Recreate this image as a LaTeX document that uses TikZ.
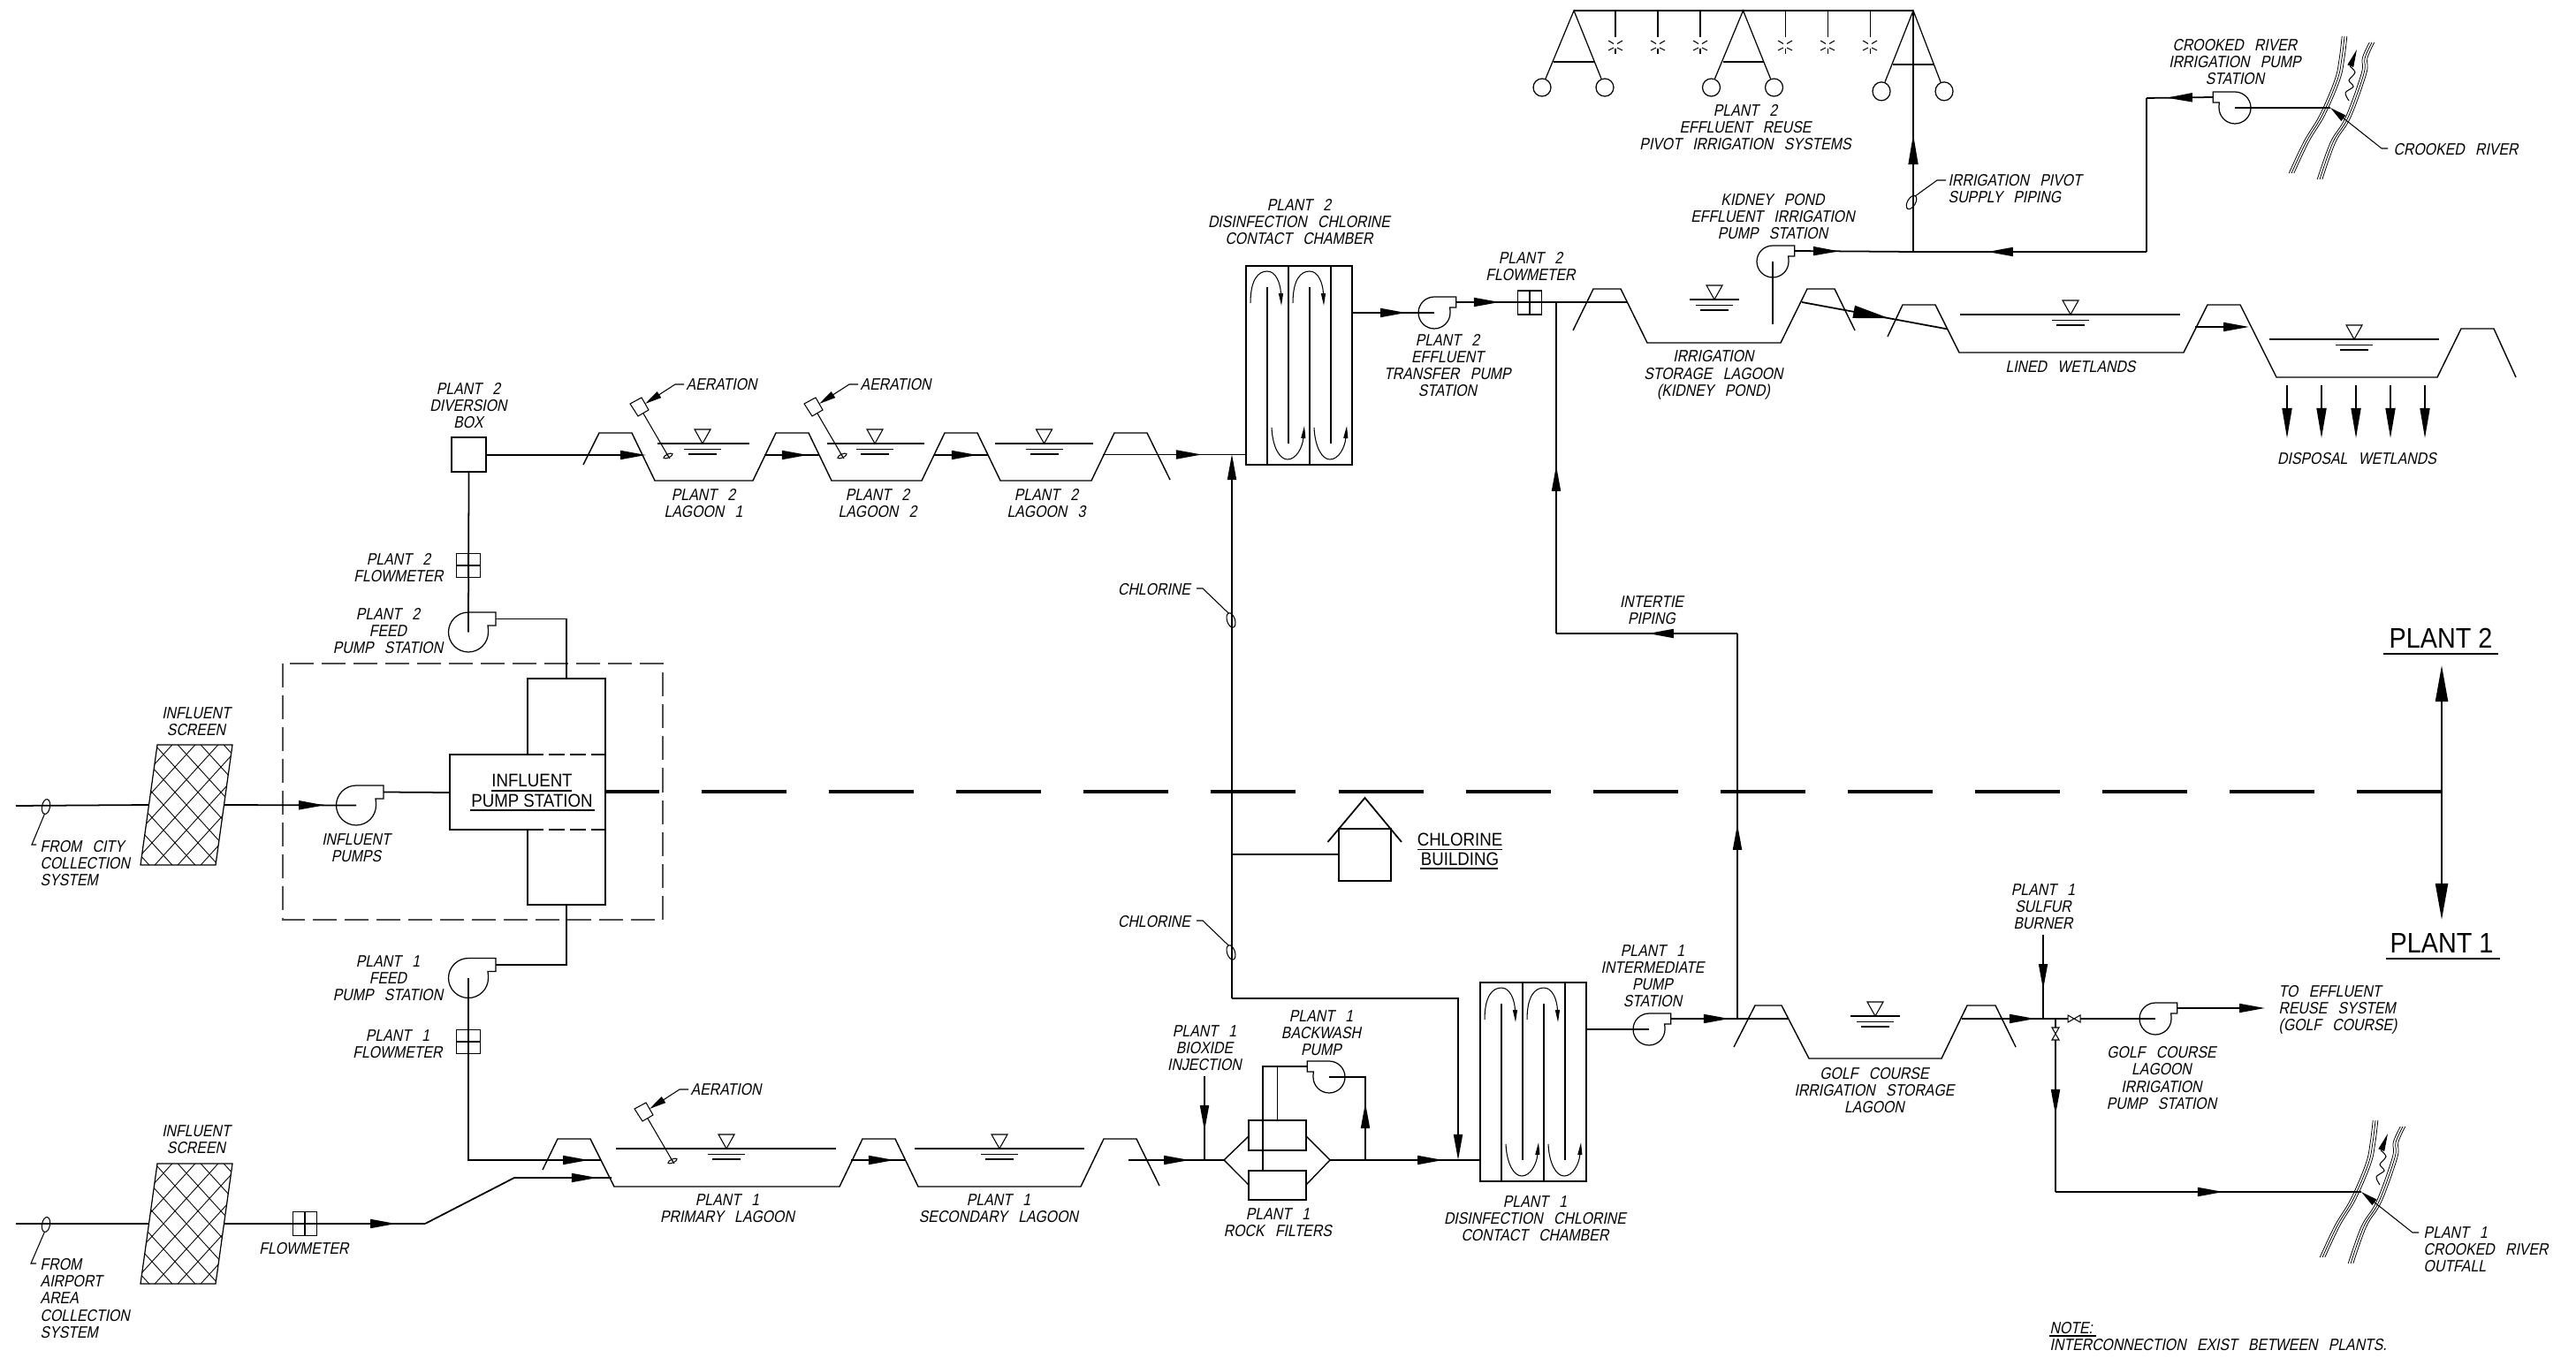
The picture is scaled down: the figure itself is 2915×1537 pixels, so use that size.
\documentclass[tikz,border=0pt]{standalone}
\usepackage{fontspec}
\usetikzlibrary{calc,positioning,arrows.meta,decorations.markings}
\newfontfamily\cadfam[FakeSlant=.2,FakeStretch=.85,WordSpace=2.8]{Liberation Sans}
\newfontfamily\cadup[FakeStretch=.9]{Liberation Sans}
\newcommand{\cadit}{\cadfam\fontsize{5.3}{5.45}\selectfont}
\newcommand{\cadtag}{\cadup\fontsize{5.9}{6.3}\selectfont}
\newcommand{\cadbig}{\cadup\fontsize{9.1}{10}\selectfont}

\tikzset{
  flowtip/.tip={Triangle[length=.29cm,width=.1cm]},
  longtip/.tip={Triangle[length=.34cm,width=.11cm]},
  bigtip/.tip={Triangle[length=.41cm,width=.14cm]},
  leadtip/.tip={Triangle[length=.19cm,width=.08cm]},
  smalltip/.tip={Triangle[length=.14cm,width=.05cm]},
  flow/.style={postaction={decorate,decoration={markings,mark=at position #1 with {\arrow{flowtip}}}}},
  lflow/.style={postaction={decorate,decoration={markings,mark=at position #1 with {\arrow{longtip}}}}},
  bflow/.style={postaction={decorate,decoration={markings,mark=at position #1 with {\arrow{bigtip}}}}},
  pipe/.style={line width=.5pt},
  leader/.style={line width=.3pt},
  hatch/.style={line width=.25pt},
  bank/.style={line width=.22pt},
  lagoon/.style={line width=.4pt},
  lbl/.style={font=\cadit,align=center,inner sep=0pt},
  lblw/.style={font=\cadit,align=left,anchor=west,inner sep=0pt},
  upr/.style={font=\cadtag,align=center,inner sep=0pt},
  box/.style={draw,rectangle,line width=.35pt,inner sep=0pt,outer sep=0pt},
  % centrifugal pump, origin at the eye
  pics/pumpsym/.style={code={
    \coordinate (-in) at (0,0);
    \coordinate (-out) at (31,-15);
    \draw[line width=.35pt] (0,-22.5) .. controls (-12.4,-22.5) and (-22.5,-12.4) .. (-22.5,0)
      .. controls (-22.5,12.4) and (-12.4,22.5) .. (0,22.5)
      .. controls (12.4,22.5) and (22.5,12.4) .. (22.5,0)
      .. controls (22.5,-2.6) and (22.4,-5) .. (22,-7.5) -- (31,-7.5) -- (31,-22.5) -- cycle;
  }},
  % flowmeter square
  pics/metersym/.style={code={
    \draw[line width=.3pt] (-13.5,-13.5) rectangle (13.5,13.5);
    \draw[line width=.3pt] (0,-13.5) -- (0,13.5);
    \draw[line width=.3pt] (-13.5,0) -- (13.5,0);
  }},
  % influent screen
  pics/screensym/.style={code={
    \coordinate (-in) at (-43,0);
    \coordinate (-out) at (43,0);
    \draw[line width=.35pt] (-33,-68) -- (52,-68) -- (33,68) -- (-52,68) -- cycle;
    \begin{scope}
      \clip (-33,-68) -- (52,-68) -- (33,68) -- (-52,68) -- cycle;
      \foreach \k in {-6,...,6}{
        \draw[hatch] ({\k*26-70},-77) -- ({\k*26+70},77);
        \draw[hatch] ({\k*26-70},77) -- ({\k*26+70},-77);
      }
    \end{scope}
  }},
  % water level mark
  pics/watersym/.style={code={
    \draw[line width=.3pt] (-9,-16) -- (9,-16) -- (0,0) -- cycle;
    \draw[line width=.6pt] (-28,0) -- (28,0);
    \draw[line width=.5pt] (-21,6.5) -- (21,6.5);
    \draw[line width=.5pt] (-16,12) -- (16,12);
  }},
  % aerator, origin at the foot
  pics/aersym/.style={code={
    \draw[line width=.3pt] (-43,-59) -- (-30,-66) -- (-22,-52) -- (-34,-45) -- cycle;
    \draw[leader] (-28,-48) -- (0,0);
    \draw[leader,rotate=25] (0,0) ellipse [x radius=5.5,y radius=2];
    \draw[leader] (-2,-3) -- (2,3);
    \draw[leader,-{leadtip}] (18,-81) -- (8,-81) -- (-26,-59);
  }},
  % contact chamber, origin at top left
  pics/chambersym/.style={code={
    \coordinate (-out) at (120,53);
    \draw[line width=.35pt] (0,0) rectangle (120,225);
    \foreach \dx in {0,48}{
      \draw[line width=.3pt] (\dx+48,0) -- (\dx+48,201);
      \draw[line width=.3pt] (\dx+24,225) -- (\dx+24,24);
      \draw[leader,-{smalltip}] (\dx+5,42) .. controls (\dx+5,15) and (\dx+14,6) .. (\dx+24,6)
        .. controls (\dx+34,6) and (\dx+39,20) .. (\dx+40,45);
      \draw[leader,-{smalltip}] (\dx+29,183) .. controls (\dx+30,205) and (\dx+38,219) .. (\dx+47,219)
        .. controls (\dx+57,219) and (\dx+64,205) .. (\dx+66,181);
    }
  }},
  % river banks, origin where the pipe meets the bank
  pics/riversym/.style={code={
    \coordinate (-j) at (0,0);
    \foreach \d in {-2.8,0,2.8}{
      \draw[bank,shift={(\d,0)}] plot [smooth, tension=.6] coordinates {(16,-81) (13,-56) (8,-32) (-9,8) (-27,38) (-44,74)};
      \draw[bank,shift={(\d,0)}] plot [smooth, tension=.6] coordinates {(47,-74) (39,-56) (38,-39) (20,11) (3,39) (-12,81)};
    }
    \draw[leader] plot [smooth] coordinates {(22,-47) (28,-40) (21,-31) (26,-24) (17,-17) (21,-8)};
    \draw[leader,-{Triangle[length=.2cm,width=.07cm]}] (23,-48) -- (30,-66);
    \draw[leader,-{leadtip}] (65,46) -- (58,46) -- (0,0);
  }},
  % pipe tag oval
  pics/tagsym/.style={code={
    \coordinate (-top) at (0,-8);
    \coordinate (-bot) at (0,8);
    \draw[leader] (0,0) ellipse [x radius=4.5,y radius=8.5];
  }},
  % valve bowtie
  pics/valvesym/.style={code={
    \draw[fill=white,leader] (-7,-4) -- (7,4) -- (7,-4) -- (-7,4) -- cycle;
  }},
  % center pivot tower
  pics/pivotsym/.style={code={
    \draw[line width=.35pt] (-32,77) -- (0,0) -- (31,77);
    \draw[line width=.35pt] (-23,58) -- (23,58);
    \draw[line width=.35pt] (-36,87) circle [radius=10];
    \draw[line width=.35pt] (35,87) circle [radius=10];
  }}
}

\begin{document}
\begin{tikzpicture}[x=.01cm,y=-.01cm,line width=.4pt]
  \useasboundingbox (0,0) rectangle (2915,1537);

  % === Influent side ===
  \draw[black!70,dash pattern=on .27cm off .09cm] (320,751) rectangle (750,1041);
  \draw (597,854) -- (509,854) -- (509,939) -- (597,939);
  \draw[dash pattern=on .18cm off .06cm] (597,854) -- (685,854);
  \draw[dash pattern=on .18cm off .06cm] (597,939) -- (685,939);
  \draw (597,854) -- (597,768) -- (685,768) -- (685,1024) -- (597,1024) -- (597,939);
  \node[upr] (stationlbl) at (602,895) {INFLUENT\\PUMP STATION};
  \draw (556,895) -- (647,895);
  \draw (532,917) -- (672.5,917);
  \coordinate (stnN) at (641,768);
  \coordinate (stnS) at (641,1024);
  \coordinate (stnW) at (509,897);

  \coordinate (cityin) at (18,912);
  \coordinate (airin) at (18,1385);
  \pic (scrA) at (211,911) {screensym};
  \pic (scrB) at (211,1385) {screensym};
  \pic (pumpA) at (403,911.5) {pumpsym};
  \pic (pumpB) at (530,715.5) {pumpsym};
  \pic (pumpC) at (530,1107) {pumpsym};

  \draw[pipe] (cityin) -- (scrA-in);
  \draw[pipe,flow=.76] (scrA-out) -- (pumpA-in);
  \draw[pipe] (pumpA-out) -- (stnW);
  \pic[rotate=-10] (tagA) at (52,913) {tagsym};
  \coordinate (tagAa) at (36,956);
  \coordinate (tagAb) at (41,956);
  \draw[leader] (tagA-bot) -- (tagAa) -- (tagAb);
  \node[lblw] (citylbl) at (45,977) {FROM CITY\\COLLECTION\\SYSTEM};
  \node[lbl] (scrAlbl) at (222,816.5) {INFLUENT\\SCREEN};
  \node[lbl] (pumpAlbl) at (403,959.5) {INFLUENT\\PUMPS};

  % === Plant 2 feed ===
  \node[box,minimum width=.39cm,minimum height=.39cm] (divbox) at (530.5,514.5) {};
  \draw[pipe] (stnN) |- (pumpB-out);
  \draw[pipe] (pumpB-in) -- (divbox.south);
  \pic at (530,640) {metersym};
  \node[lbl] (pumpBlbl) at (439,714) {PLANT 2\\FEED\\PUMP STATION};
  \node[lbl] (fmBlbl) at (451,642.5) {PLANT 2\\FLOWMETER};
  \node[lbl] (divlbl) at (530,459) {PLANT 2\\DIVERSION\\BOX};

  % === Plant 1 feed ===
  \coordinate (prima) at (680,1313);
  \coordinate (primb) at (692,1333);
  \coordinate (bendA) at (481,1385);
  \coordinate (bendB) at (582,1333);
  \draw[pipe] (stnS) |- (pumpC-out);
  \draw[pipe,flow=.961] (pumpC-in) |- (prima);
  \pic at (530,1179) {metersym};
  \draw[pipe] (airin) -- (scrB-in);
  \draw[pipe,flow=.855] (scrB-out) -- (bendA);
  \draw[pipe,flow=.928] (bendA) -- (bendB) -- (primb);
  \pic at (345,1385) {metersym};
  \pic[rotate=-10] (tagB) at (52,1386) {tagsym};
  \coordinate (tagBa) at (35,1430);
  \coordinate (tagBb) at (41,1430);
  \draw[leader] (tagB-bot) -- (tagBa) -- (tagBb);
  \node[lblw] (airlbl) at (45,1469.5) {FROM\\AIRPORT\\AREA\\COLLECTION\\SYSTEM};
  \node[lbl] (scrBlbl) at (222,1289.5) {INFLUENT\\SCREEN};
  \node[lbl] (fmlbl) at (344,1413) {FLOWMETER};
  \node[lbl] (pumpClbl) at (439,1107) {PLANT 1\\FEED\\PUMP STATION};
  \node[lbl] (fmClbl) at (450,1181.5) {PLANT 1\\FLOWMETER};

  % === Plant 2 lagoons ===
  \draw[lagoon] (660,526) -- (678,490) -- (715,490) -- (741,544) -- (852,544) -- (878,490) -- (915,490)
    -- (941,544) -- (1043,544) -- (1069,490) -- (1106,490) -- (1132,544) -- (1235,544) -- (1261,490)
    -- (1298,490) -- (1324,543);
  \draw (743.5,502) -- (848,502);
  \draw (935.5,502) -- (1046,502);
  \draw (1126,502) -- (1237,502);
  \pic at (795,502) {watersym};
  \pic at (990,502) {watersym};
  \pic at (1181.5,502) {watersym};
  \pic at (756,516) {aersym};
  \pic at (953,516) {aersym};
  \coordinate (lagA) at (731,515);
  \coordinate (lagB) at (865,515);
  \coordinate (lagC) at (927,515);
  \coordinate (lagD) at (1057,515);
  \coordinate (lagE) at (1118,515);
  \coordinate (lagF) at (1248,514.5);
  \coordinate (chamBw) at (1410,514.5);
  \draw[pipe,-{flowtip}] (divbox.east |- lagA) -- (lagA);
  \draw[pipe,flow=.79] (lagB) -- (lagC);
  \draw[pipe,flow=.8] (lagD) -- (lagE);
  \draw[pipe,flow=.691] (lagF) -- (chamBw);
  \node[lblw] (aerA) at (776,435) {AERATION};
  \node[lblw] (aerB) at (973,435) {AERATION};
  \node[lbl] (lagAlbl) at (796,569.5) {PLANT 2\\LAGOON 1};
  \node[lbl] (lagBlbl) at (993,569.5) {PLANT 2\\LAGOON 2};
  \node[lbl] (lagClbl) at (1184,569.5) {PLANT 2\\LAGOON 3};

  % === Plant 1 lagoons ===
  \draw[lagoon] (614,1324) -- (631,1289) -- (668,1289) -- (695,1343) -- (950,1343) -- (976,1289)
    -- (1013,1289) -- (1039,1343) -- (1223,1343) -- (1249,1289) -- (1286,1289) -- (1312,1342);
  \draw (697,1300) -- (946,1300);
  \draw (1035,1300) -- (1227,1300);
  \pic at (822,1300) {watersym};
  \pic at (1131,1300) {watersym};
  \pic at (761,1314) {aersym};
  \coordinate (primc) at (963,1313);
  \coordinate (primd) at (1025,1313);
  \draw[pipe,flow=.79] (primc) -- (primd);
  \node[lblw] (aerC) at (781,1233) {AERATION};
  \node[lbl] (primlbl) at (823,1368) {PLANT 1\\PRIMARY LAGOON};
  \node[lbl] (seclbl) at (1130,1368) {PLANT 1\\SECONDARY LAGOON};

  % === Rock filters ===
  \node[box,minimum width=.65cm,minimum height=.34cm] (rockU) at (1445.5,1285) {};
  \node[box,minimum width=.65cm,minimum height=.33cm] (rockL) at (1445.5,1341.5) {};
  \coordinate (rockin) at (1385,1313);
  \coordinate (rockout) at (1505,1313);
  \coordinate (secout) at (1277,1313);
  \coordinate (chamAw) at (1675,1313);
  \coordinate (bioin) at (1363,1218);
  \coordinate (biotee) at (1363,1313);
  \coordinate (bwtee) at (1545,1313);
  \coordinate (bwa) at (1429,1207);
  \coordinate (bwb) at (1445.5,1207);
  \draw (rockU.west |- 0,1286) -- (rockin) -- (rockL.west |- 0,1341);
  \draw (rockU.east |- 0,1286) -- (rockout) -- (rockL.east |- 0,1341);
  \draw[pipe,flow=.639] (secout) -- (rockin);
  \draw[pipe,flow=.753] (rockout) -- (chamAw);
  \draw[pipe,flow=.653] (bioin) -- (biotee);
  \pic[xscale=-.8,yscale=.8] (pumpD) at (1504,1219) {pumpsym};
  \draw[pipe,flow=.481] (bwtee) |- (pumpD-in);
  \draw (pumpD-out) -- (bwa) -- (bwa |- rockL.north);
  \draw (bwb) -- (rockU.north);
  \node[lbl] (biolbl) at (1363,1186) {PLANT 1\\BIOXIDE\\INJECTION};
  \node[lbl] (bwlbl) at (1495,1169) {PLANT 1\\BACKWASH\\PUMP};
  \node[lbl] (rocklbl) at (1446,1383.5) {PLANT 1\\ROCK FILTERS};

  % === Chlorine ===
  \coordinate (cltee) at (1394,1130);
  \coordinate (clup) at (1394,514);
  \coordinate (clbranch) at (1394,967);
  \coordinate (clin) at (1650,1313);
  \node[box,line width=.6pt,minimum width=.59cm,minimum height=.59cm] (clbuild) at (1544.5,967.5) {};
  \draw[line width=.5pt] (1502.5,953) -- (1544.5,903) -- (1586,953);
  \draw[pipe,-{flowtip}] (cltee) -- (clup);
  \draw[pipe,-{flowtip}] (cltee) -| (clin);
  \draw[pipe] (clbranch) -- (clbuild.west |- clbranch);
  \pic[rotate=18] (tagC) at (1393,702) {tagsym};
  \pic[rotate=18] (tagD) at (1393,1078) {tagsym};
  \coordinate (tagCa) at (1361,666);
  \coordinate (tagCb) at (1354,666);
  \coordinate (tagDa) at (1361,1042);
  \coordinate (tagDb) at (1354,1042);
  \draw[leader] (tagC-top) -- (tagCa) -- (tagCb);
  \draw[leader] (tagD-top) -- (tagDa) -- (tagDb);
  \node[lbl] (clAlbl) at (1306,667) {CHLORINE};
  \node[lbl] (clBlbl) at (1306,1043) {CHLORINE};
  \node[upr] (buildlbl) at (1652,961.5) {CHLORINE\\BUILDING};
  \draw (1603.5,961.5) -- (1700,961.5);
  \draw (1607,983) -- (1695,983);

  % === Contact chambers ===
  \pic (chamA) at (1675,1112) {chambersym};
  \pic (chamB) at (1410,301) {chambersym};
  \node[lbl] (chamAlbl) at (1737,1379) {PLANT 1\\DISINFECTION CHLORINE\\CONTACT CHAMBER};
  \node[lbl] (chamBlbl) at (1470,251) {PLANT 2\\DISINFECTION CHLORINE\\CONTACT CHAMBER};

  % --- plant 2 outlet ---
  \pic[scale=.8] (pumpE) at (1623,354) {pumpsym};
  \coordinate (irrin) at (1841,342);
  \coordinate (intT) at (1761,342);
  \coordinate (intB) at (1761,717);
  \coordinate (intC) at (1966,717);
  \coordinate (intS) at (1966,1153);
  \draw[pipe,flow=.656] (chamB-out) -- (pumpE-in);
  \draw[pipe,flow=.254] (pumpE-out) -- (irrin);
  \pic at (1731,342.5) {metersym};
  \draw[pipe,flow=.505] (intS) -- (intC);
  \draw[pipe,flow=.493] (intC) -- (intB);
  \draw[pipe,flow=.507] (intB) -- (intT);
  \node[lbl] (pumpElbl) at (1638,413.5) {PLANT 2\\EFFLUENT\\TRANSFER PUMP\\STATION};
  \node[lbl] (fmElbl) at (1732,301.5) {PLANT 2\\FLOWMETER};
  \node[lbl] (intlbl) at (1869,691) {INTERTIE\\PIPING};

  % --- plant 1 outlet ---
  \pic[scale=.8] (pumpF) at (1866,1165) {pumpsym};
  \coordinate (golfin) at (2024,1153);
  \draw[pipe] (chamA-out) -- (pumpF-in);
  \draw[pipe,flow=.496] (pumpF-out) -- (golfin);
  \node[lbl] (pumpFlbl) at (1870,1104.5) {PLANT 1\\INTERMEDIATE\\PUMP\\STATION};

  % === Golf course lagoon ===
  \draw[lagoon] (1962,1185) -- (1986,1138) -- (2016,1138) -- (2047,1198) -- (2197,1198) -- (2226,1138)
    -- (2258,1138) -- (2281,1185);
  \pic at (2122,1150) {watersym};
  \pic[scale=.8] (pumpG) at (2439,1153) {pumpsym};
  \pic[scale=.8] (pumpH) at (2006,296) {pumpsym};
  \coordinate (golfout) at (2220,1153);
  \coordinate (sulfin) at (2312,1058);
  \coordinate (sulftee) at (2312,1153);
  \coordinate (brtee) at (2326,1153);
  \coordinate (brbend) at (2326,1349);
  \coordinate (reuse) at (2563,1141);
  \draw[pipe,flow=.902] (golfout) -- (sulftee);
  \draw[pipe,flow=.653] (sulfin) -- (sulftee);
  \draw[pipe] (sulftee) -- (pumpG-in);
  \draw[pipe,-{flowtip}] (pumpG-out) -- (reuse);
  \draw[pipe,flow=.556] (brtee) -- (brbend);
  \pic (valveA) at (2347,1153) {valvesym};
  \pic[rotate=90] (valveB) at (2326,1170) {valvesym};
  \pic (rivA) at (2672,1349) {riversym};
  \draw[pipe,flow=.549] (brbend) -- (rivA-j);
  \node[lbl] (golflbl) at (2121,1234) {GOLF COURSE\\IRRIGATION STORAGE\\LAGOON};
  \node[lbl] (sulflbl) at (2312,1026) {PLANT 1\\SULFUR\\BURNER};
  \node[lbl] (pumpGlbl) at (2446,1220) {GOLF COURSE\\LAGOON\\IRRIGATION\\PUMP STATION};
  \node[lblw] (reuselbl) at (2578,1143) {TO EFFLUENT\\REUSE SYSTEM\\(GOLF COURSE)};
  \node[lblw] (outlbl) at (2742,1414) {PLANT 1\\CROOKED RIVER\\OUTFALL};

  % === Upper right lagoons ===
  \draw[lagoon] (1780,374) -- (1803,327) -- (1834,327) -- (1864,388) -- (2015,388) -- (2045,327)
    -- (2076,327) -- (2099,374);
  \draw[lagoon] (2136,381) -- (2153,345) -- (2190,345) -- (2217,399) -- (2471,399) -- (2498,345)
    -- (2535,345) -- (2576,427) -- (2758,427) -- (2785,372) -- (2822,372) -- (2847,427);
  \draw (2218,356) -- (2467,356);
  \draw (2568,384) -- (2760,384);
  \pic at (1940,339) {watersym};
  \pic at (2343,356) {watersym};
  \pic at (2664,384) {watersym};
  \coordinate (irrout) at (2039,342);
  \coordinate (linedin) at (2204,372.5);
  \coordinate (linedout) at (2484,370);
  \coordinate (dispin) at (2545,370);
  \coordinate (kidfoot) at (2006,367);
  \draw[pipe,bflow=.6] (irrout) -- (linedin);
  \draw[pipe,-{flowtip}] (linedout) -- (dispin);
  \draw (pumpH-in) -- (kidfoot);
  \foreach \ax in {2588,2627,2666,2705,2744}{
    \draw[pipe,-{longtip}] (\ax,436) -- (\ax,496);
  }
  \node[lbl] (irrlbl) at (1939,424.5) {IRRIGATION\\STORAGE LAGOON\\(KIDNEY POND)};
  \node[lbl] (linedlbl) at (2343,415) {LINED WETLANDS};
  \node[lbl] (displbl) at (2667,519) {DISPOSAL WETLANDS};
  \node[lbl] (kidlbl) at (2006,245) {KIDNEY POND\\EFFLUENT IRRIGATION\\PUMP STATION};

  % === Pivot irrigation ===
  \coordinate (pivtee) at (2165,285);
  \coordinate (pivA) at (1781,12);
  \coordinate (pivC) at (2165,12);
  \coordinate (rvbend) at (2429,285);
  \coordinate (rvtop) at (2429,111);
  \draw (pivA) -- (pivC);
  \pic at (1781,12) {pivotsym};
  \pic at (1972.5,12) {pivotsym};
  \pic[yscale=1.05] at (2165,12) {pivotsym};
  \foreach \sx in {1828,1876,1924,2020,2068,2116}{
    \draw[line width=.3pt] (\sx,12) -- (\sx,42);
    \draw[leader] (\sx-8,46) -- (\sx-2,49.5);
    \draw[leader] (\sx+8,46) -- (\sx+2,49.5);
    \draw[leader] (\sx-8,57) -- (\sx-2,54);
    \draw[leader] (\sx+8,57) -- (\sx+2,54);
    \draw[leader] (\sx,55) -- (\sx,61);
  }
  \pic[xscale=-.8,yscale=.8] (pumpI) at (2529,122) {pumpsym};
  \pic (rivB) at (2637,122) {riversym};
  \draw[pipe] (pumpI-in) -- (rivB-j);
  \draw[pipe,flow=.697] (pumpI-out) -- (rvtop);
  \draw[pipe] (rvtop) -- (rvbend);
  \draw[pipe,flow=.682] (rvbend) -- (pivtee);
  \draw[pipe,flow=.373] (pumpH-out) -- (pivtee);
  \draw[lflow=.487] (pivtee) -- (pivC);
  \pic[rotate=-30] (tagE) at (2163,229) {tagsym};
  \coordinate (tagEa) at (2192,204);
  \coordinate (tagEb) at (2202,204);
  \draw[leader] (tagE-top) -- (tagEa) -- (tagEb);
  \node[lbl] (pivlbl) at (1975,144) {PLANT 2\\EFFLUENT REUSE\\PIVOT IRRIGATION SYSTEMS};
  \node[lblw] (supplbl) at (2204,214) {IRRIGATION PIVOT\\SUPPLY PIPING};
  \node[lbl] (pumpIlbl) at (2529,70) {CROOKED RIVER\\IRRIGATION PUMP\\STATION};
  \node[lblw] (rivlbl) at (2708,169) {CROOKED RIVER};

  % === Plant boundary ===
  \coordinate (bndW) at (685,896);
  \coordinate (bndE) at (2763,896);
  \coordinate (pltA) at (2763,753);
  \coordinate (pltB) at (2763,1041);
  \draw[line width=.9pt,dash pattern=on .96cm off .48cm,dash phase=.35cm] (bndW) -- (bndE);
  \draw[line width=.6pt,{bigtip}-{bigtip}] (pltA) -- (pltB);
  \node[font=\cadbig,inner sep=0pt] (pltAlbl) at (2762,722) {PLANT 2};
  \node[font=\cadbig,inner sep=0pt] (pltBlbl) at (2763,1067) {PLANT 1};
  \draw[line width=.55pt] (2697,740) -- (2827,740);
  \draw[line width=.55pt] (2700,1085) -- (2829,1085);

  % === Note ===
  \node[lblw] (notelbl) at (2319,1503) {NOTE:};
  \draw (2319,1512) -- (2372,1512);
  \node[lblw] (notetxt) at (2319,1522) {INTERCONNECTION EXIST BETWEEN PLANTS.};
\end{tikzpicture}
\end{document}
